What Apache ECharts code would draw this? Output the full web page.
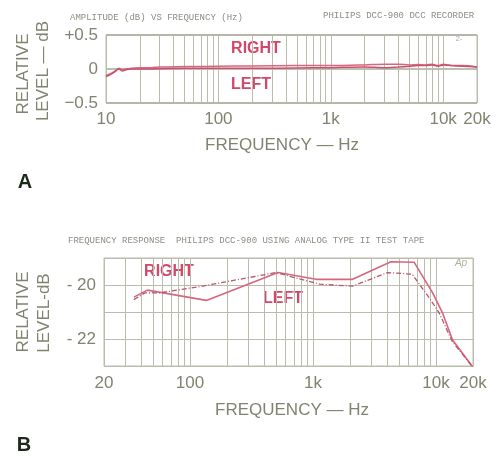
<!DOCTYPE html>
<html>
<head>
<meta charset="utf-8">
<script src="https://cdn.jsdelivr.net/npm/echarts@6/dist/echarts.min.js"></script>
<style>
  html, body { margin: 0; padding: 0; background: #fff; }
  #chart { width: 502px; height: 456px; }
</style>
</head>
<body>
<div id="chart"></div>
<script>
var chart = echarts.init(document.getElementById('chart'));

// chart A: amplitude vs frequency, DCC recorder
var freqA = [10, 11, 12, 13, 14, 15, 17, 20, 25, 30, 50, 100, 200, 500, 1000, 2000, 3000, 4000, 5000, 6000, 7000, 8000, 9000, 10000, 12000, 15000, 20000];
var rightA = [-0.10, -0.07, -0.03, 0.01, -0.01, 0.00, 0.01, 0.02, 0.02, 0.03, 0.035, 0.04, 0.045, 0.05, 0.05, 0.06, 0.07, 0.07, 0.06, 0.065, 0.06, 0.07, 0.05, 0.07, 0.05, 0.05, 0.03];
var leftA = [-0.11, -0.08, -0.04, 0.00, -0.03, -0.01, 0.00, 0.00, 0.00, 0.005, 0.01, 0.01, 0.01, 0.015, 0.02, 0.03, 0.02, 0.03, 0.04, 0.05, 0.05, 0.06, 0.04, 0.06, 0.05, 0.04, 0.03];

// chart B: analog type II test tape
var freqRightB = [35, 45, 136, 520, 1060, 2100, 4300, 6650, 9400, 11300, 13600, 20000];
var rightB = [-20.45, -20.19, -20.57, -19.54, -19.79, -19.79, -19.14, -19.16, -20.29, -21.03, -22.03, -23.05];
var freqLeftB = [35, 43, 57, 120, 154, 500, 1130, 2100, 4050, 6400, 8800, 10600, 13600, 20000];
var leftB = [-20.54, -20.29, -20.29, -20.06, -19.97, -19.54, -19.97, -20.04, -19.54, -19.6, -20.47, -21.03, -22.1, -23.05];

var gray = '#80846f';
var gridColor = '#bcbcac';
var red = '#d2486a';
var font = 'Liberation Sans';

function pairs(xs, ys) {
  return xs.map(function (x, i) { return [x, ys[i]]; });
}

// log grid lines 2..9 inside each decade
function minorLines(lo, hi) {
  var out = [];
  for (var d = 10; d < hi; d *= 10) {
    for (var k = 2; k <= 9; k++) {
      var f = d * k;
      if (f > lo && f < hi) out.push({ xAxis: f });
    }
  }
  return out;
}

function freqLabel(v) {
  v = Math.round(v);
  return v >= 1000 ? (v / 1000) + 'k' : '' + v;
}

function gridSeries(xi, lo, hi) {
  return {
    type: 'line', xAxisIndex: xi, yAxisIndex: xi, data: [], silent: true, z: 1,
    markLine: {
      silent: true, symbol: 'none', animation: false, z: 1,
      label: { show: false },
      lineStyle: { color: gridColor, width: 1, type: 'solid' },
      data: minorLines(lo, hi)
    }
  };
}

var option = {
  backgroundColor: '#fff',
  animation: false,
  grid: [
    { left: 106, right: 25, top: 35, height: 68, show: true, borderColor: gridColor, borderWidth: 1 },
    { left: 104, right: 29, top: 258, height: 108, show: true, borderColor: gridColor, borderWidth: 1 }
  ],
  xAxis: [
    {
      type: 'log', gridIndex: 0, min: 10, max: 20000, logBase: 10,
      axisLine: { show: false }, axisTick: { show: false },
      splitLine: { show: true, lineStyle: { color: gridColor, width: 1 } },
      axisLabel: { color: gray, fontFamily: font, fontSize: 17, margin: 8, formatter: freqLabel }
    },
    {
      type: 'log', gridIndex: 1, min: 20, max: 20000, logBase: 10,
      axisLine: { show: false }, axisTick: { show: false },
      splitLine: { show: true, lineStyle: { color: gridColor, width: 1 } },
      axisLabel: { color: gray, fontFamily: font, fontSize: 17, margin: 9, formatter: freqLabel }
    }
  ],
  yAxis: [
    {
      type: 'value', gridIndex: 0, min: -0.5, max: 0.5, interval: 0.5,
      axisLine: { show: false }, axisTick: { show: false },
      splitLine: { show: true, lineStyle: { color: '#a9a997', width: 1.5 } },
      axisLabel: {
        color: gray, fontFamily: font, fontSize: 17, margin: 8,
        formatter: function (v) { return v > 0 ? '+' + v : (v < 0 ? '\u2212' + (-v) : '0'); }
      }
    },
    {
      type: 'value', gridIndex: 1, min: -23, max: -19, interval: 1,
      axisLine: { show: false }, axisTick: { show: false },
      splitLine: { show: true, lineStyle: { color: gridColor, width: 1 } },
      axisLabel: {
        color: gray, fontFamily: font, fontSize: 17, margin: 8,
        formatter: function (v) { return v % 2 === 0 ? '- ' + (-v) : ''; }
      }
    }
  ],
  series: [
    gridSeries(0, 10, 20000),
    gridSeries(1, 20, 20000),
    {
      name: 'RIGHT A', type: 'line', xAxisIndex: 0, yAxisIndex: 0, z: 3,
      showSymbol: false, smooth: 0.3,
      lineStyle: { color: '#d9667f', width: 1.5 },
      data: pairs(freqA, rightA)
    },
    {
      name: 'LEFT A', type: 'line', xAxisIndex: 0, yAxisIndex: 0, z: 3,
      showSymbol: false, smooth: 0.3,
      lineStyle: { color: '#c9506d', width: 1.5 },
      data: pairs(freqA, leftA)
    },
    {
      name: 'RIGHT B', type: 'line', xAxisIndex: 1, yAxisIndex: 1, z: 3,
      showSymbol: false,
      lineStyle: { color: '#d6677e', width: 1.6 },
      data: pairs(freqRightB, rightB)
    },
    {
      name: 'LEFT B', type: 'line', xAxisIndex: 1, yAxisIndex: 1, z: 3,
      showSymbol: false,
      lineStyle: { color: '#b8566c', width: 1.3, type: [5, 2, 1, 2] },
      data: pairs(freqLeftB, leftB)
    }
  ],
  graphic: [
    // chart A captions
    { type: 'text', left: 70, top: 13, style: { text: 'AMPLITUDE (dB) VS FREQUENCY (Hz)', fill: '#8d8d82', font: '9px "Liberation Mono"' } },
    { type: 'text', left: 323, top: 11, style: { text: 'PHILIPS DCC-900 DCC RECORDER', fill: '#8d8d82', font: '9px "Liberation Mono"' } },
    { type: 'text', x: 459, y: 39, style: { text: '2-', fill: '#b0b0a0', font: '8px "Liberation Sans"', align: 'center', verticalAlign: 'middle' } },
    { type: 'text', x: 256, y: 49, style: { text: 'RIGHT', fill: red, font: 'bold 16px "Liberation Sans"', align: 'center', verticalAlign: 'middle' } },
    { type: 'text', x: 251, y: 85, style: { text: 'LEFT', fill: red, font: 'bold 16px "Liberation Sans"', align: 'center', verticalAlign: 'middle' } },
    { type: 'text', x: 23, y: 74, rotation: Math.PI / 2, style: { text: 'RELATIVE', fill: gray, font: '17px "Liberation Sans"', align: 'center', verticalAlign: 'middle' } },
    { type: 'text', x: 43, y: 71, rotation: Math.PI / 2, style: { text: 'LEVEL \u2014 dB', fill: gray, font: '17px "Liberation Sans"', align: 'center', verticalAlign: 'middle' } },
    { type: 'text', x: 282, y: 145, style: { text: 'FREQUENCY \u2014 Hz', fill: gray, font: '17px "Liberation Sans"', align: 'center', verticalAlign: 'middle' } },
    { type: 'text', x: 25, y: 182, style: { text: 'A', fill: '#1d2a1b', font: 'bold 20px "Liberation Sans"', align: 'center', verticalAlign: 'middle' } },

    // chart B captions
    { type: 'text', left: 68, top: 236, style: { text: 'FREQUENCY RESPONSE  PHILIPS DCC-900 USING ANALOG TYPE II TEST TAPE', fill: '#8d8d82', font: '9px "Liberation Mono"' } },
    { type: 'text', x: 461, y: 263, style: { text: 'Ap', fill: '#b0b0a0', font: 'italic 10px "Liberation Sans"', align: 'center', verticalAlign: 'middle' } },
    { type: 'text', x: 169, y: 272, style: { text: 'RIGHT', fill: red, font: 'bold 16px "Liberation Sans"', align: 'center', verticalAlign: 'middle' } },
    { type: 'text', x: 283, y: 299, style: { text: 'LEFT', fill: red, font: 'bold 16px "Liberation Sans"', align: 'center', verticalAlign: 'middle' } },
    { type: 'text', x: 23, y: 312, rotation: Math.PI / 2, style: { text: 'RELATIVE', fill: gray, font: '17px "Liberation Sans"', align: 'center', verticalAlign: 'middle' } },
    { type: 'text', x: 44, y: 313, rotation: Math.PI / 2, style: { text: 'LEVEL-dB', fill: gray, font: '17px "Liberation Sans"', align: 'center', verticalAlign: 'middle' } },
    { type: 'text', x: 292, y: 410, style: { text: 'FREQUENCY \u2014 Hz', fill: gray, font: '17px "Liberation Sans"', align: 'center', verticalAlign: 'middle' } },
    { type: 'text', x: 24, y: 445, style: { text: 'B', fill: '#1d2a1b', font: 'bold 20px "Liberation Sans"', align: 'center', verticalAlign: 'middle' } }
  ]
};

chart.setOption(option);
</script>
</body>
</html>
